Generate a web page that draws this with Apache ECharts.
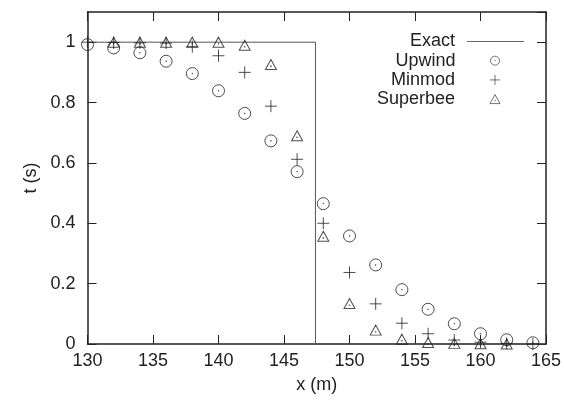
<!DOCTYPE html>
<html>
<head>
<meta charset="utf-8">
<script src="https://cdn.jsdelivr.net/npm/echarts@6/dist/echarts.min.js"></script>
<style>
  html, body { margin: 0; padding: 0; background: #fff; }
  #chart { width: 564px; height: 406px; }
</style>
</head>
<body>
<div id="chart"></div>
<script>
// data
const xUpwind = [130, 132, 134, 136, 138, 140, 142, 144, 146, 148, 150, 152, 154, 156, 158, 160, 162, 164];
const upwind = [0.992, 0.981, 0.965, 0.937, 0.896, 0.839, 0.764, 0.673, 0.571, 0.465, 0.358, 0.262, 0.180, 0.115, 0.067, 0.034, 0.014, 0.004];
const xMinmod = [130, 132, 134, 136, 138, 140, 142, 144, 146, 148, 150, 152, 154, 156, 158, 160, 162, 164];
const minmod = [1.0, 0.999, 0.998, 0.997, 0.985, 0.955, 0.900, 0.788, 0.612, 0.400, 0.237, 0.133, 0.069, 0.034, 0.013, 0.006, 0.002, 0.0];
const xSuperbee = [132, 134, 136, 138, 140, 142, 144, 146, 148, 150, 152, 154, 156, 158, 160, 162];
const superbee = [1.0, 1.0, 1.0, 1.0, 1.0, 0.99, 0.926, 0.690, 0.357, 0.134, 0.046, 0.016, 0.005, 0.002, 0.001, 0.0];
const exactX = [130, 147.4, 147.4, 165];
const exactY = [1, 1, 0, 0];
const legendNames = ['Exact', 'Upwind', 'Minmod', 'Superbee'];

const zip = (xs, ys) => xs.map((x, i) => [x, ys[i]]);

const circleSym = 'path://M10,0 A10,10 0 1,1 10,20 A10,10 0 1,1 10,0 Z M10,9.4 A0.6,0.6 0 1,1 10,10.6 A0.6,0.6 0 1,1 10,9.4 Z';
const plusSym = 'path://M10,0 L10,20 M0,10 L20,10';
const triSym = 'path://M10,0 L20,18 L0,18 Z M10,11.4 A0.6,0.6 0 1,1 10,12.6 A0.6,0.6 0 1,1 10,11.4 Z';
const lineSym = 'path://M0,0 L57,0 L57,1 L0,1 Z';
const icons = [lineSym, circleSym, plusSym, triSym];
const iconSizes = [[57, 1.2], [9, 9], [10, 10], [10, 9]];

const font = 'Liberation Sans';
const ink = '#222';
const fs = 18;

// one legend per row so every row is anchored on the right
const legends = legendNames.map((n, i) => {
  const item = { name: n, icon: icons[i] };
  item.itemStyle = i === 0
    ? { color: '#666', borderWidth: 0 }
    : { color: 'none', borderColor: ink, borderWidth: 0.8 };
  return {
    orient: 'horizontal',
    right: i === 0 ? 40 : 61.5 - iconSizes[i][0] / 2 + 5,
    top: 40 + i * 19.2 - 7.5,
    align: 'right',
    itemWidth: iconSizes[i][0],
    itemHeight: iconSizes[i][1],
    itemGap: 0,
    padding: 0,
    textStyle: { fontFamily: font, fontSize: fs, color: ink, padding: [0, i === 0 ? 7 : 30, 0, 0] },
    data: [item]
  };
});

// same box twice: grid 0 holds the data, grid 1 only draws the mirrored top/right axes
const box = { left: 87.5, right: 18, top: 12, bottom: 62, containLabel: false, outerBoundsMode: 'none' };
const blankLabel = { show: true, formatter: () => '', fontSize: 1, margin: 0, color: 'transparent' };
const frameLine = { show: true, onZero: false, lineStyle: { color: ink, width: 1.5 } };
const frameTick = { show: true, inside: true, length: 9, lineStyle: { color: ink, width: 1 } };

let myChart = echarts.init(document.getElementById('chart'));
myChart.setOption({
  animation: false,
  textStyle: { fontFamily: font },
  grid: [Object.assign({}, box), Object.assign({}, box)],
  legend: legends,
  xAxis: [
    {
      gridIndex: 0, type: 'value', min: 130, max: 165, interval: 5, position: 'bottom',
      name: 'x (m)', nameLocation: 'middle', nameGap: 32,
      nameTextStyle: { fontSize: fs, color: ink, fontFamily: font },
      axisLine: frameLine,
      axisTick: frameTick,
      axisLabel: { fontSize: fs, color: ink, margin: 8, fontFamily: font },
      splitLine: { show: false }
    },
    {
      gridIndex: 1, type: 'value', min: 130, max: 165, interval: 5, position: 'top',
      axisLine: frameLine,
      axisTick: frameTick,
      axisLabel: blankLabel,
      splitLine: { show: false }
    }
  ],
  yAxis: [
    {
      gridIndex: 0, type: 'value', min: 0, max: 1.1, interval: 0.2, position: 'left',
      name: 't (s)', nameLocation: 'middle', nameGap: 38, nameRotate: 90,
      nameTextStyle: { fontSize: fs, color: ink, fontFamily: font },
      axisLine: frameLine,
      axisTick: frameTick,
      axisLabel: {
        fontSize: fs, color: ink, margin: 12, fontFamily: font, showMaxLabel: false,
        formatter: v => (Math.abs(v - 1.1) < 1e-6 ? '' : String(+v.toFixed(1)))
      },
      splitLine: { show: false }
    },
    {
      gridIndex: 1, type: 'value', min: 0, max: 1.1, interval: 0.2, position: 'right',
      axisLine: frameLine,
      axisTick: frameTick,
      axisLabel: blankLabel,
      splitLine: { show: false }
    }
  ],
  series: [
    {
      name: 'Exact', type: 'line', data: zip(exactX, exactY),
      showSymbol: false, symbol: 'none',
      lineStyle: { color: '#555', width: 1 },
      itemStyle: { color: '#555' },
      z: 1
    },
    {
      name: 'Upwind', type: 'scatter', data: zip(xUpwind, upwind),
      symbol: circleSym, symbolSize: 12,
      itemStyle: { color: 'none', borderColor: ink, borderWidth: 1 },
      z: 3
    },
    {
      name: 'Minmod', type: 'scatter', data: zip(xMinmod, minmod),
      symbol: plusSym, symbolSize: 12,
      itemStyle: { color: 'none', borderColor: ink, borderWidth: 1 },
      z: 3
    },
    {
      name: 'Superbee', type: 'scatter', data: zip(xSuperbee, superbee),
      symbol: triSym, symbolSize: [11, 10],
      itemStyle: { color: 'none', borderColor: ink, borderWidth: 1 },
      z: 3
    },
    {
      // empty series so grid 1 (the mirrored axes) is drawn
      name: 'frame', type: 'scatter', xAxisIndex: 1, yAxisIndex: 1, data: [], silent: true
    }
  ]
});
</script>
</body>
</html>
